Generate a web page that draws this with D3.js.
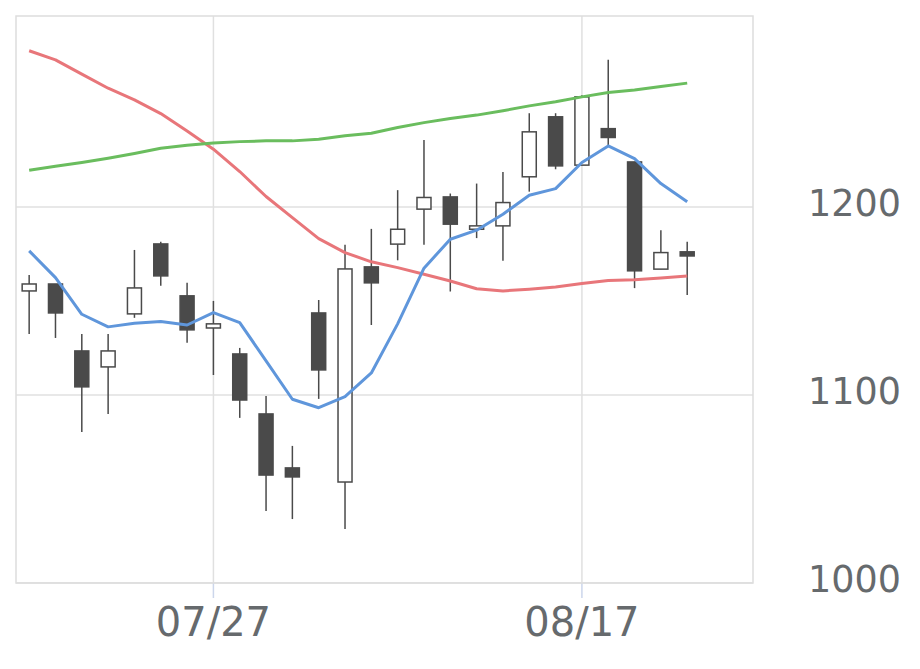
<!DOCTYPE html>
<html>
<head>
<meta charset="utf-8">
<script src="https://cdn.jsdelivr.net/npm/d3@7"></script>
<style>
  body { margin: 0; background: #fff; }
  svg { display: block; }
</style>
</head>
<body>
<svg id="chart" width="920" height="669"></svg>
<script>
// daily candles, one per trading day
var opens  = [1155.3, 1159.0, 1123.4, 1114.9, 1143.1, 1180.3, 1152.7, 1135.6, 1121.8, 1089.9, 1061.2, 1143.6, 1053.7,
              1168.1, 1180.2, 1198.8, 1205.3, 1188.1, 1189.9, 1216.0, 1247.9, 1222.2, 1241.6, 1223.9, 1166.9, 1176.1];
var highs  = [1163.8, 1159.0, 1132.4, 1132.4, 1177.1, 1181.4, 1159.6, 1150.0, 1125.0, 1099.5, 1072.9, 1150.5, 1179.8,
              1188.3, 1208.9, 1235.6, 1207.1, 1212.4, 1218.6, 1249.8, 1249.8, 1259.4, 1278.2, 1223.9, 1187.6, 1181.4];
var lows   = [1132.4, 1130.3, 1080.3, 1089.9, 1141.0, 1158.0, 1127.7, 1110.6, 1087.8, 1038.3, 1034.0, 1097.9, 1028.7,
              1137.2, 1171.6, 1179.8, 1155.0, 1183.4, 1171.3, 1208.1, 1220.0, 1222.2, 1232.4, 1156.8, 1166.9, 1153.2];
var closes = [1159.0, 1143.6, 1104.3, 1123.4, 1156.9, 1163.3, 1134.6, 1137.8, 1097.3, 1057.4, 1056.4, 1113.3, 1167.0,
              1159.6, 1188.1, 1205.0, 1190.8, 1189.9, 1202.3, 1239.9, 1221.8, 1258.5, 1236.9, 1166.0, 1175.7, 1173.9];

// moving averages
var ma5  = [1176.6, 1162.4, 1142.9, 1136.2, 1138.1, 1139.0, 1137.2, 1143.8, 1138.5, 1118.1, 1097.7, 1093.2, 1099.1,
            1111.7, 1137.8, 1167.4, 1182.8, 1187.6, 1196.1, 1206.2, 1209.7, 1223.6, 1232.4, 1225.7, 1212.4, 1202.7];
var ma25 = [1283.0, 1278.2, 1270.6, 1263.1, 1256.9, 1249.6, 1240.4, 1230.7, 1218.8, 1205.5, 1194.3, 1183.1, 1175.7,
            1170.8, 1167.7, 1164.2, 1160.6, 1156.5, 1155.3, 1156.2, 1157.4, 1159.2, 1160.8, 1161.3, 1162.2, 1163.3];
var ma75 = [1219.5, 1221.6, 1223.6, 1225.9, 1228.4, 1231.2, 1232.8, 1234.0, 1234.7, 1235.1, 1235.1, 1236.0, 1237.8,
            1239.2, 1242.2, 1244.8, 1247.0, 1248.8, 1251.1, 1253.7, 1255.9, 1258.5, 1260.8, 1262.2, 1264.0, 1265.8];

var xTickIndex  = [7, 21];
var xTickLabels = ["07/27", "08/17"];
var yTicks = [1000, 1100, 1200];

var svg = d3.select("#chart");

var plotLeft = 16, plotRight = 753, plotTop = 16, plotBottom = 583;
var slots = 28;

var x = d3.scaleBand()
  .domain(d3.range(slots))
  .range([plotLeft, plotRight])
  .padding(0);

var y = d3.scaleLinear()
  .domain([1000, 1301.5])
  .range([plotBottom, plotTop]);

function cx(i) { return x(i) + x.bandwidth() / 2; }

var candles = opens.map((o, i) => ({ i: i, o: o, h: highs[i], l: lows[i], c: closes[i] }));

// grid
svg.append("g")
  .selectAll("line.hgrid")
  .data(yTicks)
  .join("line")
  .attr("class", "hgrid")
  .attr("x1", plotLeft)
  .attr("x2", plotRight)
  .attr("y1", d => y(d))
  .attr("y2", d => y(d))
  .style("stroke", "#e0e0e0")
  .style("stroke-width", 1.5);

svg.append("g")
  .selectAll("line.vgrid")
  .data(xTickIndex)
  .join("line")
  .attr("class", "vgrid")
  .attr("x1", d => cx(d))
  .attr("x2", d => cx(d))
  .attr("y1", plotTop)
  .attr("y2", plotBottom)
  .style("stroke", "#e0e0e0")
  .style("stroke-width", 1.5);

// tick marks below the plot
svg.append("g")
  .selectAll("line.xtick")
  .data(xTickIndex)
  .join("line")
  .attr("class", "xtick")
  .attr("x1", d => cx(d))
  .attr("x2", d => cx(d))
  .attr("y1", plotBottom)
  .attr("y2", plotBottom + 15)
  .style("stroke", "#ccd6eb")
  .style("stroke-width", 1.5);

// plot border
svg.append("rect")
  .attr("x", plotLeft)
  .attr("y", plotTop)
  .attr("width", plotRight - plotLeft)
  .attr("height", plotBottom - plotTop)
  .style("fill", "none")
  .style("stroke", "#dddddd")
  .style("stroke-width", 1.5);

// candles
var bodyW = 14;
var cg = svg.append("g").attr("class", "candles");

cg.selectAll("line.wick")
  .data(candles)
  .join("line")
  .attr("class", "wick")
  .attr("x1", d => cx(d.i))
  .attr("x2", d => cx(d.i))
  .attr("y1", d => y(d.h))
  .attr("y2", d => y(d.l))
  .style("stroke", "#4a4a4a")
  .style("stroke-width", 1.5);

cg.selectAll("rect.body")
  .data(candles)
  .join("rect")
  .attr("class", "body")
  .attr("x", d => cx(d.i) - bodyW / 2)
  .attr("y", d => y(Math.max(d.o, d.c)))
  .attr("width", bodyW)
  .attr("height", d => Math.max(1, Math.abs(y(d.o) - y(d.c))))
  .style("fill", d => d.c >= d.o ? "#ffffff" : "#4a4a4a")
  .style("stroke", "#4a4a4a")
  .style("stroke-width", 1.5);

// moving average lines
var line = d3.line()
  .x((d, i) => cx(i))
  .y(d => y(d));

[[ma25, "#e8767a"], [ma75, "#6abd5e"], [ma5, "#5f96db"]].forEach(function (s) {
  svg.append("path")
    .datum(s[0])
    .attr("d", line)
    .style("fill", "none")
    .style("stroke", s[1])
    .style("stroke-width", 3)
    .style("stroke-linejoin", "round");
});

// y labels on the right
svg.append("g")
  .selectAll("text.ylab")
  .data(yTicks)
  .join("text")
  .attr("class", "ylab")
  .text(d => d)
  .attr("x", 901)
  .attr("y", d => y(d) + 9)
  .style("fill", "#666a6d")
  .style("font-size", "36.5px")
  .style("font-family", "'DejaVu Sans', sans-serif")
  .style("text-anchor", "end");

// x labels
svg.append("g")
  .selectAll("text.xlab")
  .data(xTickIndex)
  .join("text")
  .attr("class", "xlab")
  .text((d, k) => xTickLabels[k])
  .attr("x", d => cx(d))
  .attr("y", 636)
  .style("fill", "#666a6d")
  .style("font-size", "40px")
  .style("font-family", "'DejaVu Sans', sans-serif")
  .style("text-anchor", "middle");
</script>
</body>
</html>
